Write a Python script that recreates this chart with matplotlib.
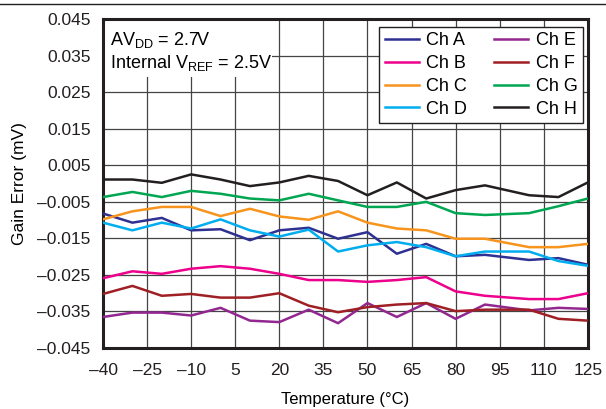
"""Gain error vs temperature, eight DAC channels."""

import matplotlib

matplotlib.use("Agg")
import matplotlib.pyplot as plt
from matplotlib.lines import Line2D
from matplotlib.patches import Rectangle

plt.rcParams["font.family"] = ["Liberation Sans", "DejaVu Sans"]
plt.rcParams["mathtext.fontset"] = "custom"
plt.rcParams["mathtext.rm"] = "Liberation Sans"
plt.rcParams["mathtext.default"] = "regular"

temps = [-40, -30, -20, -10, 0, 10, 20, 30, 40, 50, 60, 70, 80, 90, 105, 115, 125]

ch_a = [-0.0082, -0.0107, -0.0094, -0.0128, -0.0125, -0.0155, -0.0128, -0.0121, -0.0151,
        -0.0133, -0.0192, -0.0165, -0.0199, -0.0195, -0.0209, -0.0204, -0.0222]
ch_b = [-0.0259, -0.0240, -0.0247, -0.0233, -0.0226, -0.0233, -0.0247, -0.0264, -0.0264,
        -0.0269, -0.0264, -0.0256, -0.0295, -0.0307, -0.0316, -0.0316, -0.0300]
ch_c = [-0.0098, -0.0076, -0.0064, -0.0064, -0.0089, -0.0069, -0.0090, -0.0099, -0.0076,
        -0.0107, -0.0123, -0.0128, -0.0151, -0.0151, -0.0174, -0.0174, -0.0165]
ch_d = [-0.0107, -0.0128, -0.0107, -0.0123, -0.0098, -0.0128, -0.0145, -0.0126, -0.0186,
        -0.0169, -0.0160, -0.0174, -0.0199, -0.0186, -0.0186, -0.0212, -0.0225]
ch_e = [-0.0365, -0.0353, -0.0353, -0.0361, -0.0340, -0.0375, -0.0379, -0.0345, -0.0382,
        -0.0327, -0.0365, -0.0327, -0.0370, -0.0331, -0.0347, -0.0340, -0.0343]
ch_f = [-0.0302, -0.0280, -0.0307, -0.0302, -0.0312, -0.0312, -0.0300, -0.0334, -0.0352,
        -0.0338, -0.0331, -0.0327, -0.0349, -0.0345, -0.0345, -0.0370, -0.0375]
ch_g = [-0.0037, -0.0023, -0.0037, -0.0020, -0.0028, -0.0041, -0.0046, -0.0028, -0.0046,
        -0.0064, -0.0064, -0.0050, -0.0081, -0.0086, -0.0081, -0.0062, -0.0041]
ch_h = [0.0011, 0.0011, 0.0002, 0.0025, 0.0011, -0.0007, 0.0003, 0.0021, 0.0007,
        -0.0032, 0.0003, -0.0041, -0.0018, -0.0005, -0.0032, -0.0037, 0.0003]

series = [
    ("Ch A", ch_a, "#2e3192"),
    ("Ch B", ch_b, "#ec008c"),
    ("Ch C", ch_c, "#f7941d"),
    ("Ch D", ch_d, "#00aeef"),
    ("Ch E", ch_e, "#92278f"),
    ("Ch F", ch_f, "#9e1f24"),
    ("Ch G", ch_g, "#00a651"),
    ("Ch H", ch_h, "#231f20"),
]

x_ticks = [-40, -25, -10, 5, 20, 35, 50, 65, 80, 95, 110, 125]
y_ticks = [-0.045, -0.035, -0.025, -0.015, -0.005, 0.005, 0.015, 0.025, 0.035, 0.045]

fig = plt.figure(figsize=(6.06, 4.09), dpi=100)
ax = fig.add_axes([0.170, 0.149, 0.800, 0.8045])

for name, vals, color in series:
    ax.plot(temps, vals, color=color, linewidth=1.8, label=name, zorder=3)

ax.set_xlim(-40, 125)
ax.set_ylim(-0.045, 0.045)
ax.set_xticks(x_ticks)
ax.set_xticklabels([f"{t}".replace("-", "\u2013") for t in x_ticks])
ax.set_yticks(y_ticks)
ax.set_yticklabels([f"{v:.3f}".replace("-", "\u2013") for v in y_ticks])
ax.tick_params(axis="both", length=0, labelsize=12.5, colors="#231f20")
ax.tick_params(axis="y", pad=9)
ax.tick_params(axis="x", pad=11)
ax.grid(True, color="#444444", linewidth=0.9, zorder=1)
ax.set_axisbelow(True)
for sp in ax.spines.values():
    sp.set_linewidth(2.2)
    sp.set_color("#231f20")

ax.set_xlabel("Temperature (\u00b0C)", fontsize=12, labelpad=10)
ax.set_ylabel("Gain Error (mV)", fontsize=12.5, labelpad=7)

# condition box in the top-left corner, covers the grid
ax.add_patch(Rectangle((0, 0.824), 0.348, 0.176, transform=ax.transAxes,
                       facecolor="white", edgecolor="none", zorder=2))
ax.text(0.014, 0.935, "AV$_{DD}$ = 2.7V", transform=ax.transAxes,
        fontsize=13, va="center", ha="left", zorder=4)
ax.text(0.014, 0.866, "Internal V$_{REF}$ = 2.5V", transform=ax.transAxes,
        fontsize=13, va="center", ha="left", zorder=4)

leg = ax.legend(loc="upper right", bbox_to_anchor=(0.990, 0.976), ncol=2,
                fontsize=13, frameon=True, fancybox=False, framealpha=1,
                edgecolor="#231f20", handlelength=1.9, handletextpad=0.4,
                columnspacing=1.5, labelspacing=0.32, borderpad=0.3,
                borderaxespad=0)
leg.get_frame().set_linewidth(1.0)
leg.set_zorder(5)

# thin rule across the top of the figure
fig.add_artist(Line2D([0, 1], [0.990, 0.990], color="#231f20", linewidth=1.0))

fig.savefig("out.png", dpi=100)
